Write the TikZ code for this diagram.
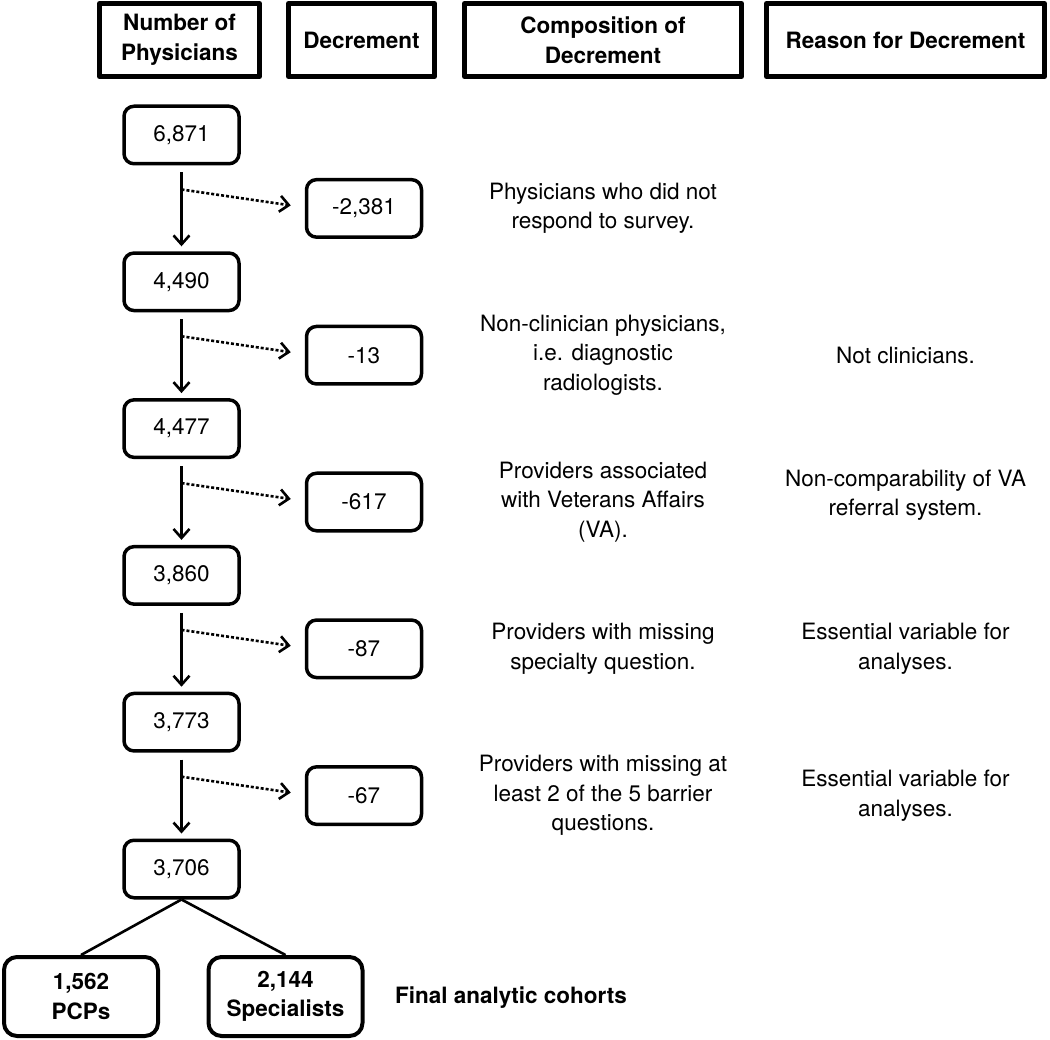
\documentclass[tikz,border=0pt]{standalone}
\usepackage{fontspec}
\setmainfont{TeX Gyre Heros}
\usetikzlibrary{arrows.meta}
\newcommand\figfont{\fontsize{22.5}{29.5}\selectfont}
\tikzset{
	headbox/.style={draw,line width=5pt,minimum height=73pt,inner sep=0pt,align=center,font=\figfont\bfseries},
	numbox/.style={draw,line width=3.5pt,rounded corners=10pt,minimum width=115pt,minimum height=57.5pt,inner sep=0pt,font=\figfont},
	cohortbox/.style={draw,line width=4pt,rounded corners=13pt,minimum width=154pt,minimum height=79pt,inner sep=0pt,align=center,font=\figfont\bfseries},
	notetext/.style={align=center,inner sep=0pt,font=\figfont},
	flow/.style={->,line width=2.6pt},
	drop/.style={->,line width=2.6pt,dash pattern=on 3pt off 2pt},
}
\begin{document}
\begin{tikzpicture}[x=1pt,y=-1pt,line join=round,>={Straight Barb[length=9pt,width=16pt]}]
		\useasboundingbox (0,0) rectangle (1050,1040);
		\def\cnum{181.5};
		\def\cdec{364};
		\def\ccomp{603};
		\def\creas{905.5};
		% column heads
		\node[headbox,minimum width=160pt] (hnum) at (179.5,40) {Number of\\Physicians};
		\node[headbox,minimum width=146pt] (hdec) at (361.5,40) {Decrement};
		\node[headbox,minimum width=277pt] (hcomp) at (603,40) {Composition of\\Decrement};
		\node[headbox,minimum width=278pt] (hreas) at (905.5,40) {Reason for Decrement};
		% counts
		\node[numbox] (n0) at (\cnum,135) {6,871};
		\node[numbox] (n1) at (\cnum,281.8) {4,490};
		\node[numbox] (n2) at (\cnum,428.6) {4,477};
		\node[numbox] (n3) at (\cnum,575.4) {3,860};
		\node[numbox] (n4) at (\cnum,722.2) {3,773};
		\node[numbox] (n5) at (\cnum,869) {3,706};
		% decrements
		\node[numbox] (d1) at (\cdec,208.4) {-2,381};
		\node[numbox] (d2) at (\cdec,355.2) {-13};
		\node[numbox] (d3) at (\cdec,502) {-617};
		\node[numbox] (d4) at (\cdec,648.8) {-87};
		\node[numbox] (d5) at (\cdec,795.6) {-67};
		% composition and reason
		\node[notetext] (c1) at (\ccomp,208.4) {Physicians who did not\\respond to survey.};
		\node[notetext] (c2) at (\ccomp,355.2) {Non-clinician physicians,\\i.e. diagnostic\\radiologists.};
		\node[notetext] (c3) at (\ccomp,502) {Providers associated\\with Veterans Affairs\\(VA).};
		\node[notetext] (c4) at (\ccomp,648.8) {Providers with missing\\specialty question.};
		\node[notetext] (c5) at (\ccomp,795.6) {Providers with missing at\\least 2 of the 5 barrier\\questions.};
		\node[notetext] (r2) at (\creas,355.2) {Not clinicians.};
		\node[notetext] (r3) at (\creas,495) {Non-comparability of VA\\referral system.};
		\node[notetext] (r4) at (\creas,648.8) {Essential variable for\\analyses.};
		\node[notetext] (r5) at (\creas,795.6) {Essential variable for\\analyses.};
		% final cohorts
		\node[cohortbox] (pcp) at (81,996.5) {1,562\\PCPs};
		\node[cohortbox] (spec) at (285.5,996.5) {2,144\\Specialists};
		\node[notetext,font=\figfont\bfseries] (final) at (511,998) {Final analytic cohorts};
		\foreach \i [evaluate=\i as \j using int(\i+1)] in {0,...,4} {
			\draw[flow] ([yshift=-7pt]n\i.south) -- ([yshift=5pt]n\j.north);
			\draw[drop] ([yshift=-24pt]n\i.south) -- ([xshift=-14pt,yshift=3pt]d\j.west);
		}
		\draw[line width=2.6pt] (n5.south) -- (pcp.north);
		\draw[line width=2.6pt] (n5.south) -- (spec.north);
	\end{tikzpicture}
\end{document}
